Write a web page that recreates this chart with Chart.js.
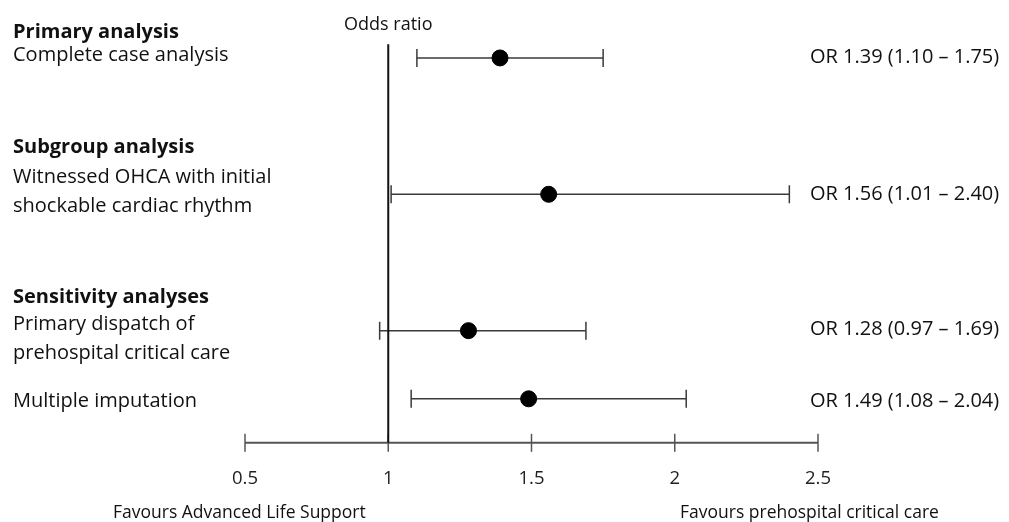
<!DOCTYPE html>
<html>
<head>
<meta charset="utf-8">
<script src="https://cdn.jsdelivr.net/npm/chart.js@4"></script>
<style>
  html, body { margin: 0; padding: 0; background: #fff; }
  #wrap { width: 1009px; height: 522px; position: relative; }
</style>
</head>
<body>
<div id="wrap"><canvas id="forest"></canvas></div>
<script>
// rows, top to bottom
const rowPos     = [0, 2, 4, 5];
const oddsRatios = [1.39, 1.56, 1.28, 1.49];
const ciLower    = [1.10, 1.01, 0.97, 1.08];
const ciUpper    = [1.75, 2.40, 1.69, 2.04];
const orLabels   = ['OR 1.39 (1.10 – 1.75)', 'OR 1.56 (1.01 – 2.40)', 'OR 1.28 (0.97 – 1.69)', 'OR 1.49 (1.08 – 2.04)'];
const rowLabels  = [['Complete case analysis'], ['Witnessed OHCA with initial', 'shockable cardiac rhythm'],
                    ['Primary dispatch of', 'prehospital critical care'], ['Multiple imputation']];
const groupHeads = ['Primary analysis', 'Subgroup analysis', 'Sensitivity analyses'];
const xTicks     = [0.5, 1, 1.5, 2, 2.5];
const refValue   = 1;

const FONT = '"Open Sans", sans-serif';
const SIZE = 20;

// text offsets from the row centre (px)
const headRow     = [0, 1, 2];
const headOffset  = [-26, -47, -33];
const labelStart  = [-3, -17, -6, 2];
const orOffset    = [-1, 0, -1, 2];

// one dataset per CI so each gets its own line + end caps
const ciSets = rowPos.map((y, i) => ({
  type: 'line',
  data: [{ x: ciLower[i], y }, { x: ciUpper[i], y }],
  borderColor: '#3a3a3a', borderWidth: 1.5,
  pointStyle: 'line', rotation: 90, pointRadius: 9,
  pointBorderColor: '#3a3a3a', pointBorderWidth: 1.5,
  showLine: true, order: 2
}));

const forestDecor = {
  id: 'forestDecor',
  afterDraw(chart) {
    const { ctx, scales: { x, y } } = chart;
    const axisY = chart.chartArea.bottom;
    ctx.save();

    // x axis line with crossing ticks
    ctx.strokeStyle = '#555'; ctx.lineWidth = 2;
    ctx.beginPath();
    ctx.moveTo(x.getPixelForValue(xTicks[0]), axisY);
    ctx.lineTo(x.getPixelForValue(xTicks[xTicks.length - 1]), axisY);
    ctx.stroke();
    ctx.lineWidth = 1.5;
    xTicks.forEach(t => {
      const px = x.getPixelForValue(t);
      ctx.beginPath(); ctx.moveTo(px, axisY - 9); ctx.lineTo(px, axisY + 9); ctx.stroke();
    });

    // reference line at OR = 1
    const rx = x.getPixelForValue(refValue);
    ctx.strokeStyle = '#111'; ctx.lineWidth = 2;
    ctx.beginPath(); ctx.moveTo(rx, y.getPixelForValue(-0.2)); ctx.lineTo(rx, axisY); ctx.stroke();

    ctx.fillStyle = '#111';
    ctx.textBaseline = 'middle';

    ctx.font = '18px ' + FONT;
    ctx.textAlign = 'center';
    ctx.fillText('Odds ratio', rx, 25);

    // left labels
    ctx.textAlign = 'left';
    ctx.font = 'bold ' + SIZE + 'px ' + FONT;
    groupHeads.forEach((t, g) => {
      ctx.fillText(t, 13, y.getPixelForValue(rowPos[headRow[g]]) + headOffset[g]);
    });
    ctx.font = SIZE + 'px ' + FONT;
    rowLabels.forEach((lines, i) => {
      const py = y.getPixelForValue(rowPos[i]) + labelStart[i];
      lines.forEach((l, k) => ctx.fillText(l, 13, py + k * 28.5));
    });

    // right OR text
    orLabels.forEach((t, i) => ctx.fillText(t, 810, y.getPixelForValue(rowPos[i]) + orOffset[i]));

    // favours labels
    ctx.font = '17.5px ' + FONT;
    ctx.fillText('Favours Advanced Life Support', 113, 513);
    ctx.fillText('Favours prehospital critical care', 680, 513);
    ctx.restore();
  }
};

new Chart(document.getElementById('forest'), {
  type: 'scatter',
  data: {
    datasets: [
      {
        data: rowPos.map((y, i) => ({ x: oddsRatios[i], y })),
        backgroundColor: '#000', borderColor: '#000',
        pointRadius: 8, pointHoverRadius: 8, order: 1
      },
      ...ciSets
    ]
  },
  options: {
    responsive: true, maintainAspectRatio: false, animation: false,
    layout: { padding: { left: 245, right: 191, top: 30, bottom: 15 } },
    plugins: { legend: { display: false }, tooltip: { enabled: false } },
    scales: {
      x: {
        type: 'linear', min: 0.5, max: 2.5,
        afterBuildTicks: s => { s.ticks = xTicks.map(v => ({ value: v })); },
        grid: { display: false }, border: { display: false },
        ticks: { color: '#222', font: { family: FONT, size: 18.5 }, padding: 17, maxRotation: 0,
                 callback: v => String(v) }
      },
      y: {
        type: 'linear', reverse: true, min: -0.41, max: 5.645, display: false
      }
    }
  },
  plugins: [forestDecor]
});
</script>
</body>
</html>
